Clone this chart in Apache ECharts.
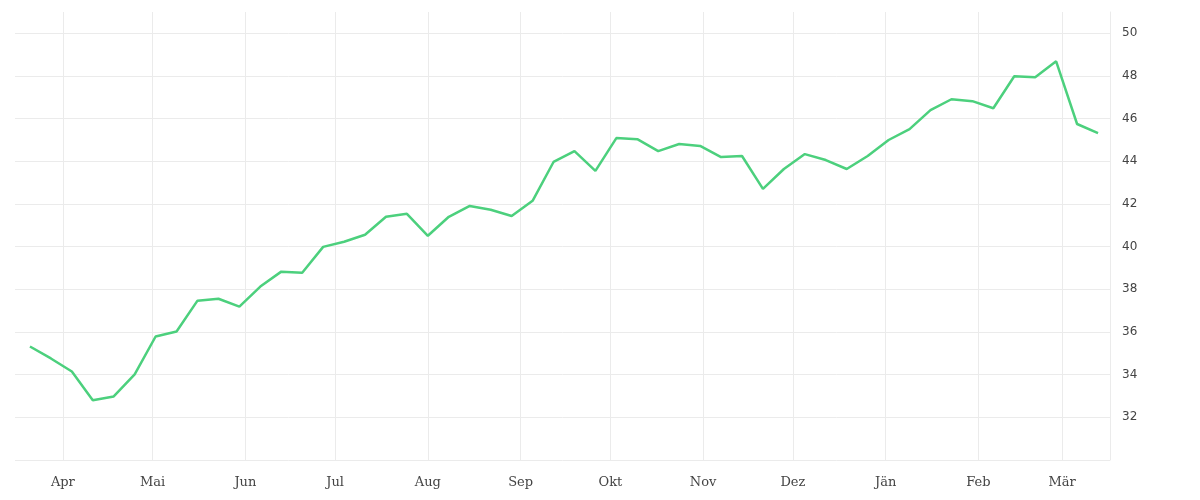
<!DOCTYPE html>
<html>
<head>
<meta charset="utf-8">
<script src="https://cdn.jsdelivr.net/npm/echarts@6/dist/echarts.min.js"></script>
<style>html,body{margin:0;background:#fff}#chart{width:1200px;height:500px}</style>
</head>
<body>
<div id="chart"></div>
<script>
// weekly values, starting Monday 2022-03-21
const startDate = '2022-03-21';
const values = [
  35.32, 34.76, 34.15, 32.80, 32.98, 34.01, 35.79, 36.02, 37.47, 37.56,
  37.19, 38.13, 38.83, 38.78, 39.99, 40.23, 40.56, 41.40, 41.54, 40.51,
  41.40, 41.91, 41.73, 41.44, 42.15, 43.97, 44.48, 43.55, 45.09, 45.04,
  44.48, 44.81, 44.72, 44.20, 44.25, 42.71, 43.64, 44.34, 44.06, 43.64,
  44.25, 45.00, 45.51, 46.40, 46.91, 46.82, 46.49, 47.99, 47.94, 48.69,
  45.75, 45.32
];
const monthNames = ['Jän', 'Feb', 'Mär', 'Apr', 'Mai', 'Jun', 'Jul', 'Aug', 'Sep', 'Okt', 'Nov', 'Dez'];

const DAY = 86400000;
const t0 = new Date(startDate + 'T00:00:00').getTime();
const points = values.map((v, i) => [t0 + i * 7 * DAY, v]);

const chart = echarts.init(document.getElementById('chart'));
const grid = '#ebebeb';
chart.setOption({
  animation: false,
  grid: { left: 15, right: 90, top: 12, bottom: 40 },
  xAxis: {
    type: 'time',
    min: new Date('2022-03-16T00:00:00').getTime(),
    max: new Date('2023-03-17T00:00:00').getTime(),
    splitNumber: 13,
    minInterval: 28 * DAY,
    maxInterval: 31 * DAY,
    axisLine: { show: false },
    axisTick: { show: false },
    splitLine: { show: true, lineStyle: { color: grid }, showMinLine: false, showMaxLine: false },
    axisLabel: {
      color: '#444',
      fontFamily: 'DejaVu Serif',
      fontSize: 13,
      margin: 16,
      formatter: (v) => monthNames[new Date(v).getMonth()]
    }
  },
  yAxis: {
    type: 'value',
    position: 'right',
    min: 30,
    max: 51,
    interval: 2,
    axisLine: { show: true, lineStyle: { color: grid } },
    axisTick: { show: false },
    splitLine: { lineStyle: { color: grid }, showMaxLine: false },
    axisLabel: {
      color: '#444',
      fontFamily: 'DejaVu Sans',
      fontSize: 12,
      margin: 12,
      showMinLabel: false,
      showMaxLabel: false
    }
  },
  series: [{
    type: 'line',
    data: points,
    showSymbol: false,
    lineStyle: { color: '#4cd07d', width: 2.5 },
    itemStyle: { color: '#4cd07d' }
  }]
});
</script>
</body>
</html>
